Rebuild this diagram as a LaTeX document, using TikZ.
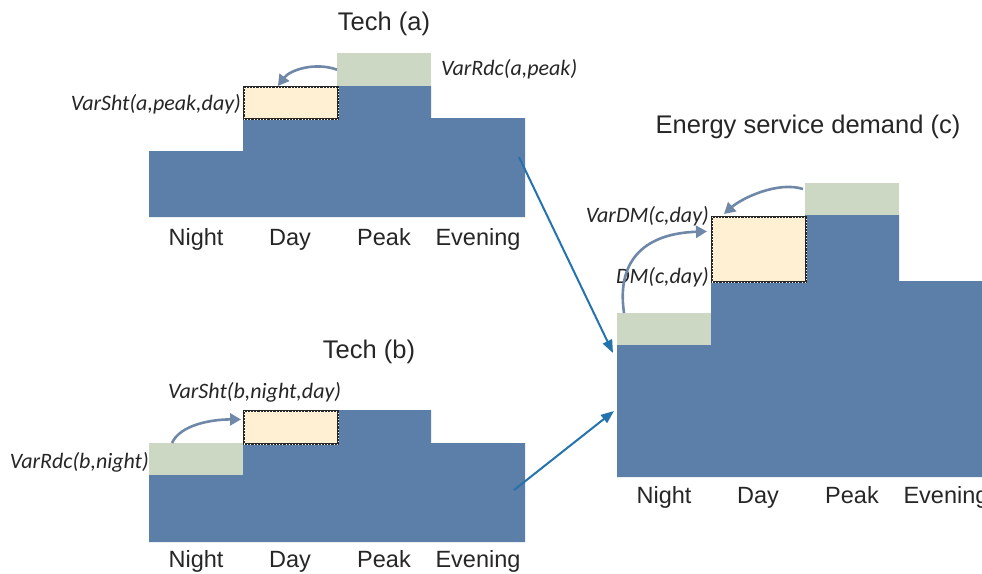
\documentclass[tikz,border=0pt]{standalone}
\usepackage{fontspec}
\setmainfont{Liberation Sans}
\newfontfamily\varfont{Carlito}
\usetikzlibrary{arrows.meta,calc}

\definecolor{barblue}{HTML}{5B7FA8}
\definecolor{cutgreen}{HTML}{CCD8C4}
\definecolor{shiftyellow}{HTML}{FFF0D4}
\definecolor{linkblue}{HTML}{2473AC}
\definecolor{curvegray}{HTML}{6F88A8}
\definecolor{txtgray}{HTML}{262626}

\begin{document}
\begin{tikzpicture}[x=1pt, y=-1pt,
    bar/.style={fill=barblue},
    cutbox/.style={fill=cutgreen, inner sep=0pt, minimum width=94pt, anchor=north west},
    shiftbox/.style={fill=shiftyellow, draw=txtgray, line width=1.8pt, inner sep=0pt, minimum width=94pt, anchor=north west,
        postaction={draw=white, line width=0.4pt, dash pattern=on 0.6pt off 2.6pt}},
    period/.style={font=\fontsize{23.5}{28}\selectfont, text=txtgray, inner sep=0pt, anchor=base},
    title/.style={font=\fontsize{25.5}{30}\selectfont, text=txtgray, inner sep=0pt, anchor=base},
    varlbl/.style={font=\varfont\itshape\fontsize{22}{26}\selectfont, text=txtgray, inner sep=0pt},
    curve/.style={draw=curvegray, line width=2.6pt, -{Triangle[length=11pt,width=12pt]}},
    link/.style={draw=linkblue, line width=2pt, -{Triangle[length=13pt,width=10pt]}}]
    \useasboundingbox (0,0) rectangle (982,573);

    % Tech (a)
    \node[title] (ta) at (384,30) {Tech (a)};
    \fill[bar] (149,217) -- (149,151) -- (243,151) -- (243,118) -- (337,118) -- (337,86)
        -- (431,86) -- (431,118) -- (525,118) -- (525,217) -- cycle;
    \node[cutbox, minimum height=33pt] (a-cut) at (337,53) {};
    \node[shiftbox, minimum height=32pt] (a-shift) at (243,86) {};
    \node[varlbl, anchor=base east] (a-sht) at (241,110) {VarSht(a,peak,day)};
    \node[varlbl, anchor=base west] (a-rdc) at (441,75) {VarRdc(a,peak)};
    \node[period] (a-night) at (196,245) {Night};
    \node[period] (a-day) at (290,245) {Day};
    \node[period] (a-peak) at (384,245) {Peak};
    \node[period] (a-eve) at (478,245) {Evening};
    \coordinate (a-out) at (519,157);

    % Tech (b)
    \node[title] (tb) at (369,358) {Tech (b)};
    \fill[bar] (149,542) -- (149,475) -- (243,475) -- (243,443) -- (337,443) -- (337,410)
        -- (431,410) -- (431,443) -- (525,443) -- (525,542) -- cycle;
    \node[cutbox, minimum height=32pt] (b-cut) at (149,443) {};
    \node[shiftbox, minimum height=33pt] (b-shift) at (243,410) {};
    \node[varlbl, anchor=base west] (b-sht) at (168,398) {VarSht(b,night,day)};
    \node[varlbl, anchor=base east] (b-rdc) at (149,468) {VarRdc(b,night)};
    \node[period] (b-night) at (196,567) {Night};
    \node[period] (b-day) at (290,567) {Day};
    \node[period] (b-peak) at (384,567) {Peak};
    \node[period] (b-eve) at (478,567) {Evening};
    \coordinate (b-out) at (514,490);

    % Energy service demand (c)
    \node[title] (tc) at (808,133) {Energy service demand (c)};
    \fill[bar] (617,477) -- (617,345) -- (711,345) -- (711,281) -- (805,281) -- (805,215)
        -- (899,215) -- (899,281) -- (990,281) -- (990,477) -- cycle;
    \node[cutbox, minimum height=32pt] (c-cut1) at (617,313) {};
    \node[cutbox, minimum height=32pt] (c-cut2) at (805,183) {};
    \node[shiftbox, minimum height=65pt] (c-shift) at (711,216) {};
    \node[varlbl, anchor=base east] (c-vardm) at (709,222) {VarDM(c,day)};
    \node[varlbl, anchor=base east] (c-dm) at (709,283) {DM(c,day)};
    \node[period] (c-night) at (664,503) {Night};
    \node[period] (c-day) at (758,503) {Day};
    \node[period] (c-peak) at (852,503) {Peak};
    \node[period] (c-eve) at (946,503) {Evening};
    \coordinate (c-in1) at (613,353);
    \coordinate (c-in2) at (614,411);

    % shifts
    \draw[curve] (a-cut.west) .. controls +(-22,-8) and +(12,-16) .. ($(a-shift.north)+(-13,0)$);
    \draw[curve] ($(b-cut.north west)+(23,0)$) .. controls +(8,-18) and +(-30,0) .. ($(b-shift.west)+(-2,-8)$);
    \draw[curve] ($(c-cut2.north west)+(-2,6)$) .. controls +(-25,-8) and +(18,-16) .. ($(c-shift.north west)+(13,-2)$);
    \draw[curve] ($(c-cut1.north west)+(7,0)$) .. controls +(-8,-55) and +(-60,2) .. ($(c-shift.west)+(-4,-18)$);

    % links
    \draw[link] (a-out) -- (c-in1);
    \draw[link] (b-out) -- (c-in2);
\end{tikzpicture}
\end{document}
